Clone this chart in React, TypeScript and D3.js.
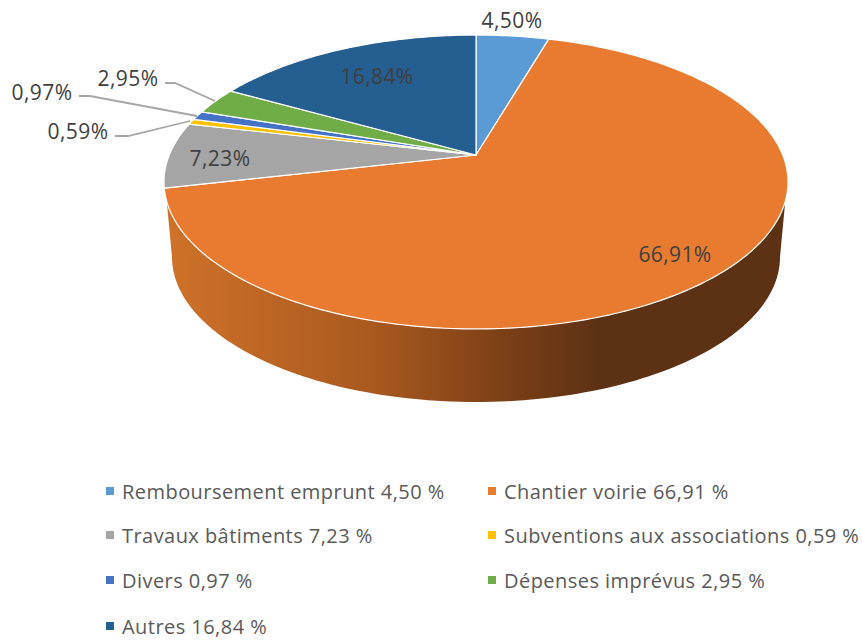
import React from "react";
import * as d3 from "d3";

const categories = ["Remboursement emprunt", "Chantier voirie", "Travaux bâtiments", "Subventions aux associations", "Divers", "Dépenses imprévus", "Autres"];
const values = [4.5, 66.91, 7.23, 0.59, 0.97, 2.95, 16.84];
const valueLabels = ["4,50%", "66,91%", "7,23%", "0,59%", "0,97%", "2,95%", "16,84%"];
const legendValues = ["4,50 %", "66,91 %", "7,23 %", "0,59 %", "0,97 %", "2,95 %", "16,84 %"];
const colors = ["#5b9bd5", "#e97b30", "#a5a5a5", "#ffc000", "#4472c4", "#70ad47", "#255e91"];
const wallStops: [number, string][] = [
  [0, "#cf7229"], [0.33, "#a9591f"], [0.54, "#7d4017"], [0.7, "#5c3114"], [1, "#5c3114"],
];
const labelPos: [number, number][] = [[512, 20], [675, 254], [220, 158], [78, 131], [42, 92], [128, 78], [377, 76]];
const leaders: ([number, number][] | null)[] = [
  null, null, null,
  [[115, 136], [128, 136], [190, 121]],
  [[79, 96], [90, 96], [197, 116]],
  [[165, 83], [175, 83], [215, 101]],
  null,
];
const legendRows = [491, 535, 580, 626];
const legendCols = [122, 504];

const cx = 476, cy = 155, A = 306.7, B = 142, K = 0.1837;
const project = (a: number): [number, number] => {
  const u = Math.sin(a), v = Math.cos(a), w = 1 + K * v;
  return [cx + (A * u) / w, cy - (B * v) / w];
};

const arcs = d3.pie<number>().sort(null)(values);
const lineGen = d3.line();
const slicePath = (a0: number, a1: number) => {
  const pts: [number, number][] = [[cx, cy]];
  const n = Math.max(3, Math.ceil((a1 - a0) * 60));
  d3.range(n + 1).forEach((i) => pts.push(project(a0 + ((a1 - a0) * i) / n)));
  return lineGen(pts)! + "Z";
};

const lowerCy = 257, lowerRx = 304, lowerRy = 145;
const wallPath = () => {
  const pts: [number, number][] = [];
  const a0 = 1.4 * Math.PI, a1 = 0.6 * Math.PI;
  d3.range(121).forEach((i) => pts.push(project(a0 + ((a1 - a0) * i) / 120)));
  d3.range(121).forEach((i) => {
    const t = (i / 120) * Math.PI;
    pts.push([476 + lowerRx * Math.cos(t), lowerCy + lowerRy * Math.sin(t)]);
  });
  return lineGen(pts)! + "Z";
};

export default function App() {
  const font = "'Open Sans', 'Noto Sans', sans-serif";
  return (
    <svg width={862} height={641} style={{ position: "absolute", left: 0, top: 0, background: "#fff" }} fontFamily={font}>
      <defs>
        <linearGradient id="wall" gradientUnits="userSpaceOnUse" x1={166} x2={788} y1={0} y2={0}>
          {wallStops.map(([o, c]) => <stop key={o} offset={o} stopColor={c} />)}
        </linearGradient>
      </defs>
      <path d={wallPath()} fill="url(#wall)" />
      {arcs.map((d, i) => (
        <path key={i} d={slicePath(d.startAngle, d.endAngle)} fill={colors[i]} stroke="#fff" strokeWidth={1.2} strokeLinejoin="round" />
      ))}
      {leaders.map((l, i) => l && <path key={i} d={lineGen(l)!} fill="none" stroke="#a6a6a6" strokeWidth={1.8} />)}
      {valueLabels.map((t, i) => (
        <text key={i} x={labelPos[i][0]} y={labelPos[i][1]} textAnchor="middle" fontSize={21} letterSpacing={0.4} fill="#404040" dominantBaseline="central">{t}</text>
      ))}
      {categories.map((c, i) => {
        const col = i === 6 ? 0 : i % 2;
        const row = Math.floor(i / 2);
        return (
          <g key={c}>
            <rect x={legendCols[col] - 16} y={legendRows[row] - 4} width={8} height={8} fill={colors[i]} />
            <text x={legendCols[col]} y={legendRows[row]} fontSize={20} letterSpacing={0.45} fill="#595959" dominantBaseline="central">{c} {legendValues[i]}</text>
          </g>
        );
      })}
    </svg>
  );
}
